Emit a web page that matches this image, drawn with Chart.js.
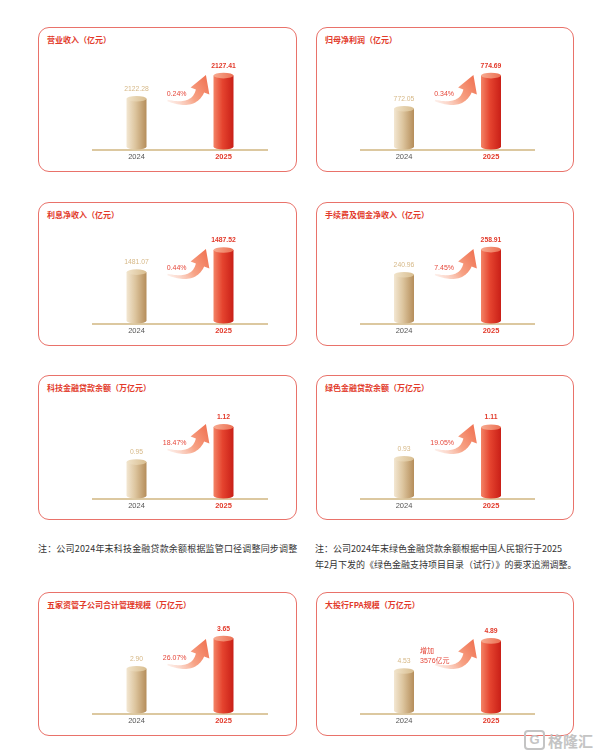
<!DOCTYPE html>
<html>
<head>
<meta charset="utf-8">
<script src="https://cdn.jsdelivr.net/npm/chart.js@4.4.1/dist/chart.umd.min.js"></script>
<style>
  body { margin: 0; background: #fff; width: 599px; height: 755px; position: relative; overflow: hidden;
         font-family: "Noto Sans CJK SC", sans-serif; }
  .panel { position: absolute; border: 1.2px solid #e9726a; border-radius: 11px; box-sizing: border-box; }
  .title { position: absolute; color: #e23a2b; font-size: 8px; font-weight: bold; line-height: 12px; white-space: nowrap; }
  canvas { position: absolute; }
  .note { position: absolute; color: #333; font-size: 9px; line-height: 15.5px; white-space: nowrap; }
  .logo { position: absolute; left: 524px; top: 730px; color: #c4c4c4; font-size: 15px; font-weight: bold; white-space: nowrap; }
  .logo span { display: inline-block; width: 17px; height: 16px; border: 2px solid #c4c4c4; border-radius: 4px;
               font-family: "Liberation Sans", sans-serif; font-size: 13px; line-height: 16px; text-align: center;
               margin-right: 3px; vertical-align: top; }
</style>
</head>
<body>
<div id="wrap"></div>
<div class="note" style="left:38px; top:541px; letter-spacing:0.18px;">注：公司2024年末科技金融贷款余额根据监管口径调整同步调整</div>
<div class="note" style="left:315px; top:541px;">注：公司2024年末绿色金融贷款余额根据中国人民银行于2025<br>年2月下发的《绿色金融支持项目目录（试行）》的要求追溯调整。</div>
<div class="logo"><span>G</span>格隆汇</div>
<script>
// 数据
const titles = [
  "营业收入（亿元）", "归母净利润（亿元）",
  "利息净收入（亿元）", "手续费及佣金净收入（亿元）",
  "科技金融贷款余额（万亿元）", "绿色金融贷款余额（万亿元）",
  "五家资管子公司合计管理规模（万亿元）", "大投行FPA规模（万亿元）"
];
const years = ["2024", "2025"];
const values2024 = [2122.28, 772.05, 1481.07, 240.96, 0.95, 0.93, 2.90, 4.53];
const values2025 = [2127.41, 774.69, 1487.52, 258.91, 1.12, 1.11, 3.65, 4.89];
const growth = ["0.24%", "0.34%", "0.44%", "7.45%", "18.47%", "19.05%", "26.07%", ["增加", "3576亿元"]];
// 原图柱子不按比例, 每个面板的纵轴范围
const axisMin = [2111.02, 768.81, 1466.09, 206.14, 0.7742, 0.7036, 1.7875, 4.0236];
const axisMax = [2131.09, 776.01, 1492.48, 270.76, 1.2113, 1.2195, 4.0375, 5.1036];

// 版面
const colLeft = [38, 316], colWidth = [259, 258];
const padL = [55, 44.5], padR = [30, 39.5];
const rowTop = [27, 202, 375, 592], rowHeight = [145, 144, 145, 144];
const rowBase = [149, 322.5, 497.5, 712.5];

const tanPal = ["#f3e7d2", "#dcc49d", "#b58d5a"];
const redPal = ["#f38466", "#e5442f", "#c91f17"];

Chart.defaults.font.family = "'Liberation Sans', 'Noto Sans CJK SC', sans-serif";

const cylinders = {
  id: "cylinders",
  afterDatasetsDraw(chart) {
    const ctx = chart.ctx;
    const k = chart.options.plugins.cylinders.panel;
    const bars = chart.getDatasetMeta(0).data;
    const vals = chart.data.datasets[0].data;
    bars.forEach((bar, i) => {
      const { x, y, base, width } = bar.getProps(["x", "y", "base", "width"], true);
      const w = width / 2, ry = 2.8;
      const pal = i === 0 ? tanPal : redPal;
      const g = ctx.createLinearGradient(x - w, 0, x + w, 0);
      g.addColorStop(0, pal[0]); g.addColorStop(0.45, pal[1]); g.addColorStop(1, pal[2]);
      ctx.save();
      ctx.fillStyle = g;
      ctx.beginPath();
      ctx.moveTo(x - w, y);
      ctx.lineTo(x - w, base - ry);
      ctx.ellipse(x, base - ry, w, ry, 0, Math.PI, 0, true);
      ctx.lineTo(x + w, y);
      ctx.closePath();
      ctx.fill();
      const cap = ctx.createLinearGradient(x - w, 0, x + w, 0);
      if (i === 0) { cap.addColorStop(0, "#f1e4cb"); cap.addColorStop(1, "#d8bd8f"); }
      else { cap.addColorStop(0, "#f7ac92"); cap.addColorStop(1, "#ec6f52"); }
      ctx.fillStyle = cap;
      ctx.beginPath();
      ctx.ellipse(x, y, w, ry, 0, 0, Math.PI * 2);
      ctx.fill();
      ctx.font = (i === 0 ? "" : "bold ") + "6.8px 'Liberation Sans', sans-serif";
      ctx.fillStyle = i === 0 ? "#d6b887" : "#e23a2b";
      ctx.textAlign = "center";
      ctx.textBaseline = "middle";
      ctx.fillText(vals[i].toFixed(2), x, y - ry - 7);
      ctx.restore();
    });

    // 弯箭头
    const X = bars[1].x, B = chart.chartArea.bottom;
    const P0 = [X - 56, B - 49], C = [X - 30, B - 41], P1 = [X - 23.5, B - 58.5];
    const up = [], low = [];
    const N = 24;
    for (let s = 0; s <= N; s++) {
      const t = s / N, u = 1 - t;
      const px = u * u * P0[0] + 2 * u * t * C[0] + t * t * P1[0];
      const py = u * u * P0[1] + 2 * u * t * C[1] + t * t * P1[1];
      const dx = 2 * u * (C[0] - P0[0]) + 2 * t * (P1[0] - C[0]);
      const dy = 2 * u * (C[1] - P0[1]) + 2 * t * (P1[1] - C[1]);
      const len = Math.hypot(dx, dy);
      const hw = (0.8 + 3.6 * t);
      up.push([px + dy / len * hw, py - dx / len * hw]);
      low.push([px - dy / len * hw, py + dx / len * hw]);
    }
    const tx = P1[0] - C[0], ty = P1[1] - C[1], tl = Math.hypot(tx, ty);
    const ux = tx / tl, uy = ty / tl;
    const tip = [P1[0] + ux * 17, P1[1] + uy * 17];
    const hl = [P1[0] + uy * 10, P1[1] - ux * 10];
    const hr = [P1[0] - uy * 10, P1[1] + ux * 10];
    const ag = ctx.createLinearGradient(P0[0], P0[1], tip[0], tip[1]);
    ag.addColorStop(0, "rgba(248,190,170,0.25)");
    ag.addColorStop(0.5, "#f7a386");
    ag.addColorStop(1, "#f07252");
    ctx.save();
    ctx.fillStyle = ag;
    ctx.beginPath();
    ctx.moveTo(up[0][0], up[0][1]);
    up.forEach(p => ctx.lineTo(p[0], p[1]));
    ctx.lineTo(hl[0], hl[1]);
    ctx.lineTo(tip[0], tip[1]);
    ctx.lineTo(hr[0], hr[1]);
    for (let s = low.length - 1; s >= 0; s--) ctx.lineTo(low[s][0], low[s][1]);
    ctx.closePath();
    ctx.fill();

    // 增长率
    ctx.fillStyle = "#e5473a";
    ctx.font = "7px 'Liberation Sans', 'Noto Sans CJK SC', sans-serif";
    ctx.textBaseline = "middle";
    const gr = growth[k];
    if (Array.isArray(gr)) {
      ctx.textAlign = "left";
      ctx.fillText(gr[0], X - 71, B - 62);
      ctx.fillText(gr[1], X - 71, B - 52.5);
    } else {
      ctx.textAlign = "right";
      ctx.fillText(gr, X - 37, B - 55);
    }
    ctx.restore();
  }
};

const wrap = document.getElementById("wrap");
titles.forEach((t, k) => {
  const c = k % 2, r = Math.floor(k / 2);
  const p = document.createElement("div");
  p.className = "panel";
  p.style.cssText = `left:${colLeft[c]}px;top:${rowTop[r]}px;width:${colWidth[c]}px;height:${rowHeight[r]}px;`;
  wrap.appendChild(p);
  const h = document.createElement("div");
  h.className = "title";
  h.textContent = t;
  h.style.left = (colLeft[c] + 9) + "px";
  h.style.top = (rowTop[r] + 6.5) + "px";
  wrap.appendChild(h);
  const cv = document.createElement("canvas");
  cv.width = colWidth[c];
  cv.height = 109;
  cv.style.left = colLeft[c] + "px";
  cv.style.top = (rowBase[r] - 92) + "px";
  wrap.appendChild(cv);

  new Chart(cv.getContext("2d"), {
    type: "bar",
    data: {
      labels: years,
      datasets: [{
        data: [values2024[k], values2025[k]],
        base: axisMin[k],
        backgroundColor: "rgba(0,0,0,0)",
        barThickness: 20
      }]
    },
    options: {
      responsive: false,
      animation: false,
      layout: { padding: { left: padL[c], right: padR[c], top: 2, bottom: 2.5 } },
      plugins: { legend: { display: false }, tooltip: { enabled: false }, cylinders: { panel: k } },
      scales: {
        x: {
          grid: { display: false, drawTicks: false },
          border: { display: true, color: "#dcc8a0", width: 2 },
          ticks: {
            padding: 2.5,
            color: c2 => c2.index === 0 ? "#555" : "#e23a2b",
            font: c2 => ({ size: 7.5, weight: c2.index === 0 ? "normal" : "bold" })
          }
        },
        y: { display: false, min: axisMin[k], max: axisMax[k] }
      }
    },
    plugins: [cylinders]
  });
});
</script>
</body>
</html>
